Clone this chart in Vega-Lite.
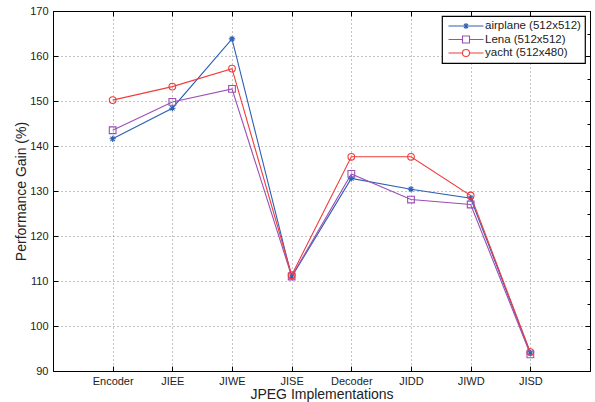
{
  "$schema": "https://vega.github.io/schema/vega-lite/v6.json",
  "width": 537,
  "height": 360,
  "autosize": "none",
  "padding": {"left": 53, "top": 11, "right": 5, "bottom": 32},
  "background": "white",
  "config": {
    "view": {"stroke": "black", "strokeWidth": 1},
    "font": "Liberation Sans",
    "axis": {"domainColor": "black", "tickColor": "black", "labelColor": "#222", "titleColor": "#222", "titleFontWeight": "normal", "labelFont": "Liberation Sans", "titleFont": "Liberation Sans"},
    "legend": {"orient": "top-right", "offset": 5, "fillColor": "white", "strokeColor": "black", "strokeWidth": 1.2, "padding": 4, "labelFontSize": 11.5, "labelColor": "#222", "symbolSize": 100, "symbolStrokeWidth": 1.1, "symbolOffset": 14, "labelOffset": 13, "rowPadding": 1.5}
  },
  "data": {
    "values": [
      {"impl": "Encoder", "series": "airplane (512x512)", "gain": 141.6},
      {"impl": "JIEE", "series": "airplane (512x512)", "gain": 148.4},
      {"impl": "JIWE", "series": "airplane (512x512)", "gain": 163.8},
      {"impl": "JISE", "series": "airplane (512x512)", "gain": 110.9},
      {"impl": "Decoder", "series": "airplane (512x512)", "gain": 132.8},
      {"impl": "JIDD", "series": "airplane (512x512)", "gain": 130.4},
      {"impl": "JIWD", "series": "airplane (512x512)", "gain": 128.4},
      {"impl": "JISD", "series": "airplane (512x512)", "gain": 94.0},
      {"impl": "Encoder", "series": "Lena (512x512)", "gain": 143.5},
      {"impl": "JIEE", "series": "Lena (512x512)", "gain": 149.8},
      {"impl": "JIWE", "series": "Lena (512x512)", "gain": 152.7},
      {"impl": "JISE", "series": "Lena (512x512)", "gain": 111.0},
      {"impl": "Decoder", "series": "Lena (512x512)", "gain": 133.8},
      {"impl": "JIDD", "series": "Lena (512x512)", "gain": 128.1},
      {"impl": "JIWD", "series": "Lena (512x512)", "gain": 127.0},
      {"impl": "JISD", "series": "Lena (512x512)", "gain": 93.7},
      {"impl": "Encoder", "series": "yacht (512x480)", "gain": 150.2},
      {"impl": "JIEE", "series": "yacht (512x480)", "gain": 153.2},
      {"impl": "JIWE", "series": "yacht (512x480)", "gain": 157.2},
      {"impl": "JISE", "series": "yacht (512x480)", "gain": 111.3},
      {"impl": "Decoder", "series": "yacht (512x480)", "gain": 137.6},
      {"impl": "JIDD", "series": "yacht (512x480)", "gain": 137.6},
      {"impl": "JIWD", "series": "yacht (512x480)", "gain": 129.0},
      {"impl": "JISD", "series": "yacht (512x480)", "gain": 94.2}
    ]
  },
  "layer": [
    {
      "layer": [
        {
          "mark": {"type": "line", "strokeWidth": 1.1},
          "encoding": {
            "x": {"field": "impl", "type": "ordinal", "scale": {"type": "point", "padding": 1, "domain": ["Encoder", "JIEE", "JIWE", "JISE", "Decoder", "JIDD", "JIWD", "JISD"]},
              "axis": {"title": "JPEG Implementations", "titleFontSize": 14, "titlePadding": 1, "labelFontSize": 11, "labelAngle": 0, "tickSize": -5, "labelPadding": 9, "grid": true, "gridDash": [1, 3], "gridColor": "#888", "domain": true}},
            "y": {"field": "gain", "type": "quantitative", "scale": {"domain": [90, 170], "nice": false, "zero": false},
              "axis": {"title": "Performance Gain (%)", "titleFontSize": 14, "titlePadding": 1, "labelFontSize": 11, "values": [90, 95, 100, 105, 110, 115, 120, 125, 130, 135, 140, 145, 150, 155, 160, 165, 170],
                "labelExpr": "datum.value % 10 === 0 ? datum.label : ''",
                "tickSize": {"condition": {"test": "datum.value % 10 !== 0", "value": -3}, "value": -5},
                "labelPadding": 10, "grid": true, "gridDash": [1, 3], "gridColor": "#888",
                "gridOpacity": {"condition": {"test": "datum.value % 10 !== 0", "value": 0}, "value": 1}}},
            "color": {"field": "series", "type": "nominal", "title": null, "scale": {"domain": ["airplane (512x512)", "Lena (512x512)", "yacht (512x480)"], "range": ["#2d5fb5", "#9b4fb5", "#f03c3c"]}}
          }
        },
        {
          "transform": [{"filter": "datum.series === 'airplane (512x512)'"}],
          "mark": {"type": "point", "filled": false, "size": 40, "strokeWidth": 1.1, "opacity": 1, "shape": "M0,-1V1M-1,0H1M-0.7,-0.7L0.7,0.7M-0.7,0.7L0.7,-0.7"},
          "encoding": {
            "x": {"field": "impl", "type": "ordinal"},
            "y": {"field": "gain", "type": "quantitative"},
            "color": {"field": "series", "type": "nominal", "title": null}
          }
        },
        {
          "transform": [{"filter": "datum.series === 'Lena (512x512)'"}],
          "mark": {"type": "point", "filled": false, "size": 45, "strokeWidth": 1.1, "opacity": 1, "shape": "square"},
          "encoding": {
            "x": {"field": "impl", "type": "ordinal"},
            "y": {"field": "gain", "type": "quantitative"},
            "color": {"field": "series", "type": "nominal", "title": null}
          }
        },
        {
          "transform": [{"filter": "datum.series === 'yacht (512x480)'"}],
          "mark": {"type": "point", "filled": false, "size": 45, "strokeWidth": 1.1, "opacity": 1, "shape": "circle"},
          "encoding": {
            "x": {"field": "impl", "type": "ordinal"},
            "y": {"field": "gain", "type": "quantitative"},
            "color": {"field": "series", "type": "nominal", "title": null}
          }
        },
        {
          "transform": [{"filter": "false"}],
          "mark": {"type": "point", "filled": false, "strokeWidth": 1.1, "opacity": 1},
          "encoding": {
            "x": {"field": "impl", "type": "ordinal"},
            "y": {"field": "gain", "type": "quantitative"},
            "color": {"field": "series", "type": "nominal", "title": null},
            "shape": {"field": "series", "type": "nominal", "title": null,
              "scale": {"domain": ["airplane (512x512)", "Lena (512x512)", "yacht (512x480)"],
                "range": ["M-3.5,0H3.5M0,-0.6V0.6M-0.6,0H0.6M-0.42,-0.42L0.42,0.42M-0.42,0.42L0.42,-0.42", "M-3.5,0H-0.7M0.7,0H3.5M-0.7,-0.7H0.7V0.7H-0.7Z", "M-3.5,0H-0.7M0.7,0H3.5M-0.7,0A0.7,0.7,0,1,0,0.7,0A0.7,0.7,0,1,0,-0.7,0"]}}
          }
        }
      ]
    },
    {
      "mark": {"type": "point", "opacity": 0},
      "encoding": {
        "x": {"field": "impl", "type": "ordinal", "scale": {"type": "point", "padding": 1, "domain": ["Encoder", "JIEE", "JIWE", "JISE", "Decoder", "JIDD", "JIWD", "JISD"]},
          "axis": {"orient": "top", "title": null, "labels": false, "tickSize": -5, "grid": false}},
        "y": {"field": "gain", "type": "quantitative", "scale": {"domain": [90, 170], "nice": false, "zero": false},
          "axis": {"orient": "right", "title": null, "labels": false, "grid": false, "values": [90, 95, 100, 105, 110, 115, 120, 125, 130, 135, 140, 145, 150, 155, 160, 165, 170],
            "tickSize": {"condition": {"test": "datum.value % 10 !== 0", "value": -3}, "value": -5}}}
      }
    }
  ],
  "resolve": {"axis": {"x": "independent", "y": "independent"}}
}
